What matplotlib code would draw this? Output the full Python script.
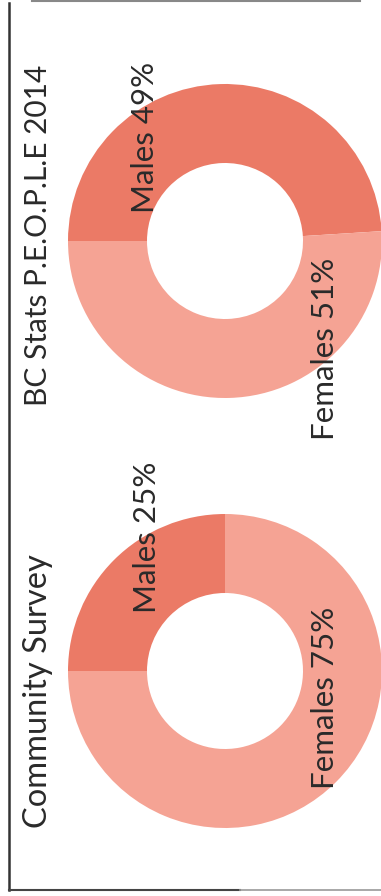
import matplotlib
matplotlib.use("Agg")
import matplotlib.pyplot as plt
from matplotlib.lines import Line2D

# Gender split from two sources
labels = ["Males", "Females"]
bc_stats_values = [49, 51]
survey_values = [25, 75]
chart_titles = ["BC Stats P.E.O.P.L.E 2014", "Community Survey"]

male_color = "#EB7A66"
female_color = "#F5A394"
text_color = "#2a2a2a"

W, H = 381, 896
fig = plt.figure(figsize=(W / 100, H / 100), dpi=100)
ax = fig.add_axes([0, 0, 1, 1])

font = ["Lato", "DejaVu Sans"]
fs_label = 22.5


def donut(values, cy, title, title_y, title_size, male_pos, female_pos):
    ax.pie(values, startangle=180, counterclock=False, center=(225, cy),
           radius=157, colors=[male_color, female_color],
           wedgeprops=dict(width=79, linewidth=0))
    ax.text(38, title_y, title, rotation=90, ha="center", va="center",
            fontsize=title_size, family=font, color=text_color)
    ax.text(male_pos[0], male_pos[1], f"{labels[0]} {values[0]}%", rotation=90,
            ha="center", va="center", fontsize=fs_label, family=font,
            color=text_color)
    ax.text(female_pos[0], female_pos[1], f"{labels[1]} {values[1]}%", rotation=90,
            ha="center", va="center", fontsize=fs_label, family=font,
            color=text_color)


donut(bc_stats_values, H - 241, chart_titles[0], H - 235, 21.5,
      (145, H - 137), (325, H - 349))
donut(survey_values, H - 671, chart_titles[1], H - 691, 23.5,
      (147, H - 537), (325, H - 698))

# Frame lines
ax.add_line(Line2D([9, 9], [H - 3, H - 890], color="#333333", lw=1.8))
ax.add_line(Line2D([9, 240], [H - 890, H - 890], color="#444444", lw=1.5))
ax.add_line(Line2D([240, 381], [H - 890, H - 890], color="#999999", lw=1.2))
ax.add_line(Line2D([32, 360], [H - 0.8, H - 0.8], color="#888888", lw=1.5))

ax.set_xlim(0, W)
ax.set_ylim(0, H)
ax.set_aspect("auto")
ax.axis("off")

fig.savefig("out.png", dpi=100)
